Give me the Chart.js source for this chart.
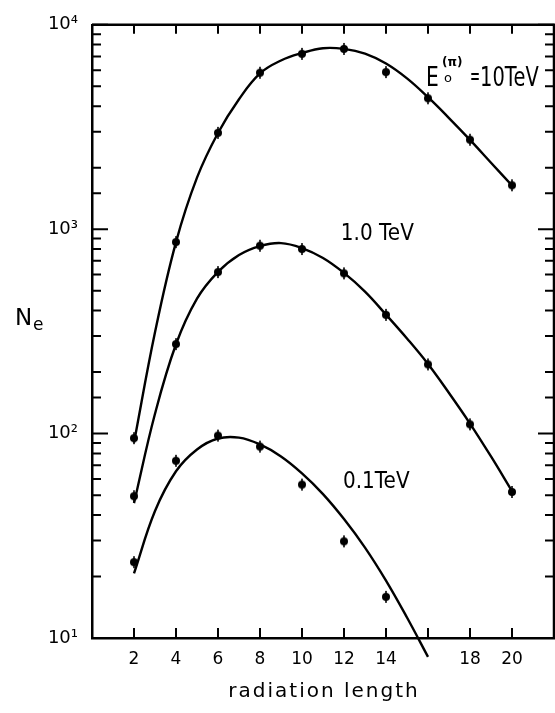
<!DOCTYPE html>
<html>
<head>
<meta charset="utf-8">
<script src="https://cdn.jsdelivr.net/npm/chart.js@4.4.1/dist/chart.umd.min.js"></script>
<style>
  html, body { margin: 0; padding: 0; background: #fff; overflow: hidden; }
  canvas { display: block; }
</style>
</head>
<body>
<canvas id="showerChart" width="560" height="713"></canvas>
<script>
// measured shower sizes (depth in radiation lengths)
const depth = [2, 4, 6, 8, 10, 12, 14, 16, 18, 20];
const n10TeV = [95, 865, 2960, 5830, 7210, 7620, 5870, 4370, 2740, 1640];
const n1TeV = [49.4, 274, 617, 830, 800, 608, 381, 218, 111, 51.8];
const depth01 = [2, 4, 6, 8, 10, 12, 14];
const n01TeV = [23.5, 73.6, 97.8, 86.4, 56.3, 29.7, 15.9];

// calculated curves
const curveDepth = [2, 3, 4, 5, 6, 7, 8, 9, 10, 11, 12, 13, 14, 15, 16, 17, 18, 19, 20];
const curve10TeV = [90.4, 313, 865, 1788, 2957, 4324, 5783, 6688, 7272, 7680, 7622, 7231, 6468, 5469, 4422, 3497, 2735, 2115, 1635];
const curve1TeV = [45.7, 125, 273.5, 457, 618, 748, 827, 855, 809, 723, 611, 495, 382, 292, 219, 158, 112, 77.3, 52.3];
const curveDepth01 = [2, 3, 4, 5, 6, 7, 8, 9, 10, 11, 12, 13, 14, 15, 16];
const curve01TeV = [20.7, 41.8, 65.4, 83.6, 94.6, 95.6, 88.5, 77.3, 63.9, 50.6, 38.2, 27.7, 19.1, 12.6, 8.09];

const xTicks = [2, 4, 6, 8, 10, 12, 14, 18, 20];
const yLabels = { 10: "10\u00b9", 100: "10\u00b2", 1000: "10\u00b3", 10000: "10\u2074" };

const FONT = "DejaVu Sans";

function pairs(xs, ys) {
  return xs.map((x, i) => ({ x: x, y: ys[i] }));
}

// dot with a short vertical error bar
function makeMarker() {
  const c = document.createElement("canvas");
  c.width = 10;
  c.height = 16;
  const g = c.getContext("2d");
  g.fillStyle = "#000";
  g.strokeStyle = "#000";
  g.beginPath();
  g.arc(5, 8, 4, 0, Math.PI * 2);
  g.fill();
  g.lineWidth = 1.6;
  g.beginPath();
  g.moveTo(5, 2);
  g.lineTo(5, 14);
  g.stroke();
  return c;
}
const marker = makeMarker();

function pointSet(xs, ys) {
  return {
    data: pairs(xs, ys),
    showLine: false,
    pointStyle: marker,
    pointRadius: 5,
  };
}

function curveSet(xs, ys, clip) {
  return {
    data: pairs(xs, ys),
    borderColor: "#000",
    borderWidth: 2.4,
    pointRadius: 0,
    tension: 0.4,
    fill: false,
    clip: clip,
  };
}

// frame ticks pointing inwards on all four sides, plus the top/right border
const framePlugin = {
  id: "frame",
  afterDraw(chart) {
    const ctx = chart.ctx;
    const a = chart.chartArea;
    const xs = chart.scales.x;
    const ys = chart.scales.y;
    ctx.save();
    ctx.strokeStyle = "#000";
    ctx.lineWidth = 2.5;
    ctx.beginPath();
    ctx.moveTo(a.left, a.top);
    ctx.lineTo(a.right, a.top);
    ctx.lineTo(a.right, a.bottom);
    ctx.stroke();

    ctx.lineWidth = 2;
    ctx.beginPath();
    ys.ticks.forEach((t) => {
      const py = ys.getPixelForValue(t.value);
      const major = Math.abs(Math.log10(t.value) - Math.round(Math.log10(t.value))) < 1e-6;
      const len = major ? 16 : 9;
      ctx.moveTo(a.left, py);
      ctx.lineTo(a.left + len, py);
      ctx.moveTo(a.right, py);
      ctx.lineTo(a.right - len, py);
    });
    for (let v = 2; v <= 20; v += 2) {
      const px = xs.getPixelForValue(v);
      ctx.moveTo(px, a.bottom);
      ctx.lineTo(px, a.bottom - 10);
      ctx.moveTo(px, a.top);
      ctx.lineTo(px, a.top + 9);
    }
    ctx.stroke();
    ctx.restore();
  },
};

const notes = [
  { text: "1.0 TeV", x: 11.85, y: 890 },
  { text: "0.1TeV", x: 11.95, y: 54 },
];

// narrow lettering: draw text squeezed horizontally
function squeezed(ctx, text, x, y, font, sx) {
  ctx.save();
  ctx.font = font;
  ctx.translate(x, y);
  ctx.scale(sx, 1);
  ctx.fillText(text, 0, 0);
  ctx.restore();
}

const labelPlugin = {
  id: "labels",
  afterDraw(chart) {
    const ctx = chart.ctx;
    const xs = chart.scales.x;
    const ys = chart.scales.y;
    const a = chart.chartArea;
    ctx.save();
    ctx.fillStyle = "#000";
    ctx.textAlign = "left";
    ctx.textBaseline = "alphabetic";

    notes.forEach((n) => {
      squeezed(ctx, n.text, xs.getPixelForValue(n.x), ys.getPixelForValue(n.y), "23px " + FONT, 0.87);
    });

    // E0(pi) = 10 TeV
    const px = xs.getPixelForValue(15.91);
    const py = ys.getPixelForValue(5000);
    squeezed(ctx, "E", px, py, "27px " + FONT, 0.75);
    ctx.font = "bold 12px " + FONT;
    ctx.fillText("(\u03c0)", px + 16, py - 20);
    ctx.font = "13px " + FONT;
    ctx.fillText("o", px + 18, py - 4);
    squeezed(ctx, "=", px + 44, py - 2, "24px " + FONT, 0.5);
    squeezed(ctx, "10TeV", px + 54, py, "27px " + FONT, 0.72);

    // N_e axis name
    ctx.font = "23px " + FONT;
    ctx.fillText("N", 15, 325);
    ctx.font = "17px " + FONT;
    ctx.fillText("e", 33, 330);

    // axis title, letter-spaced
    ctx.font = "20px " + FONT;
    ctx.letterSpacing = "2px";
    ctx.textAlign = "center";
    ctx.fillText("radiation length", (a.left + a.right) / 2 + 1, 697);
    ctx.restore();
  },
};

new Chart(document.getElementById("showerChart"), {
  type: "line",
  data: {
    datasets: [
      curveSet(curveDepth, curve10TeV, true),
      curveSet(curveDepth, curve1TeV, true),
      curveSet(curveDepth01, curve01TeV, false),
      pointSet(depth, n10TeV),
      pointSet(depth, n1TeV),
      pointSet(depth01, n01TeV),
    ],
  },
  options: {
    responsive: false,
    animation: false,
    devicePixelRatio: 1,
    layout: { padding: { top: 20, right: 3, left: 0, bottom: 0 } },
    plugins: {
      legend: { display: false },
      tooltip: { enabled: false },
    },
    scales: {
      x: {
        type: "linear",
        min: 0,
        max: 22,
        afterFit(scale) {
          scale.height = 75;
        },
        afterBuildTicks(scale) {
          scale.ticks = xTicks.map((v) => ({ value: v }));
        },
        grid: { display: false, drawTicks: false },
        border: { display: true, color: "#000", width: 2.5 },
        ticks: {
          autoSkip: false,
          maxRotation: 0,
          padding: 11,
          color: "#000",
          font: { family: FONT, size: 17 },
          callback: (v) => String(v),
        },
      },
      y: {
        type: "logarithmic",
        min: 10,
        max: 10000,
        afterFit(scale) {
          scale.width = 92;
        },
        grid: { display: false, drawTicks: false },
        border: { display: true, color: "#000", width: 2.5 },
        ticks: {
          autoSkip: false,
          padding: 14,
          color: "#000",
          font: { family: FONT, size: 18 },
          callback: (v) => yLabels[v] || "",
        },
      },
    },
  },
  plugins: [framePlugin, labelPlugin],
});
</script>
</body>
</html>
